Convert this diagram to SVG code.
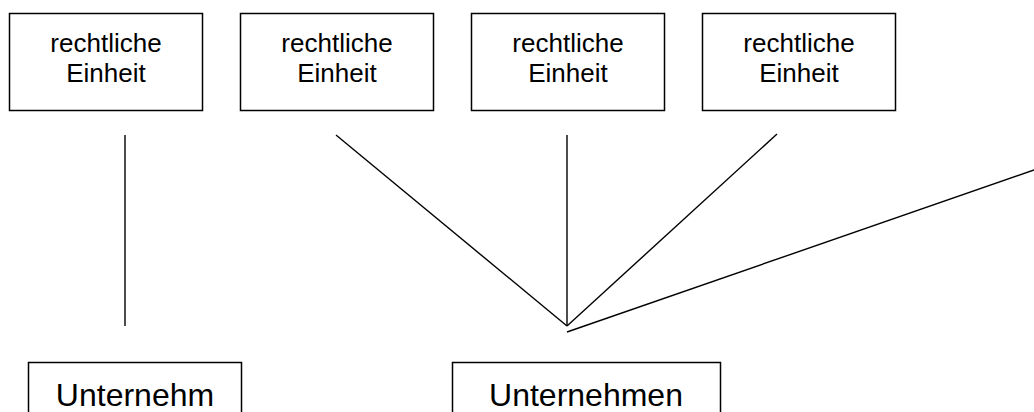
<svg xmlns="http://www.w3.org/2000/svg" width="1034" height="412" viewBox="0 0 1034 412">
<style>
.box{fill:#fff;stroke:#000;stroke-width:1.5}
.t{font-family:"Liberation Sans",Arial,sans-serif;font-size:26px;fill:#000;text-anchor:middle}
.tb{font-family:"Liberation Sans",Arial,sans-serif;font-size:32px;fill:#000;text-anchor:middle}
.c line{stroke:#000;stroke-width:1.4}
</style>
<rect width="1034" height="412" fill="#fff"/>
<g id="re1"><rect class="box" x="9.5" y="13.5" width="193" height="97"/><text class="t" x="106" y="52">rechtliche</text><text class="t" x="106" y="82">Einheit</text></g>
<g id="re2"><rect class="box" x="240.5" y="13.5" width="193" height="97"/><text class="t" x="337" y="52">rechtliche</text><text class="t" x="337" y="82">Einheit</text></g>
<g id="re3"><rect class="box" x="471.5" y="13.5" width="193" height="97"/><text class="t" x="568" y="52">rechtliche</text><text class="t" x="568" y="82">Einheit</text></g>
<g id="re4"><rect class="box" x="702.5" y="13.5" width="193" height="97"/><text class="t" x="799" y="52">rechtliche</text><text class="t" x="799" y="82">Einheit</text></g>
<g id="u1"><rect class="box" x="28.5" y="362.5" width="213" height="80"/><text class="tb" x="135" y="406">Unternehm</text></g>
<g id="u2"><rect class="box" x="452.5" y="362.5" width="268" height="80"/><text class="tb" x="586" y="406">Unternehmen</text></g>
<g class="c" id="connectors">
<line x1="125" y1="135" x2="125" y2="326"/>
<line x1="336" y1="135" x2="567" y2="326"/>
<line x1="567" y1="135" x2="567" y2="326"/>
<line x1="777" y1="134" x2="567" y2="326"/>
<line x1="1034" y1="170" x2="567" y2="332"/>
</g>
</svg>
